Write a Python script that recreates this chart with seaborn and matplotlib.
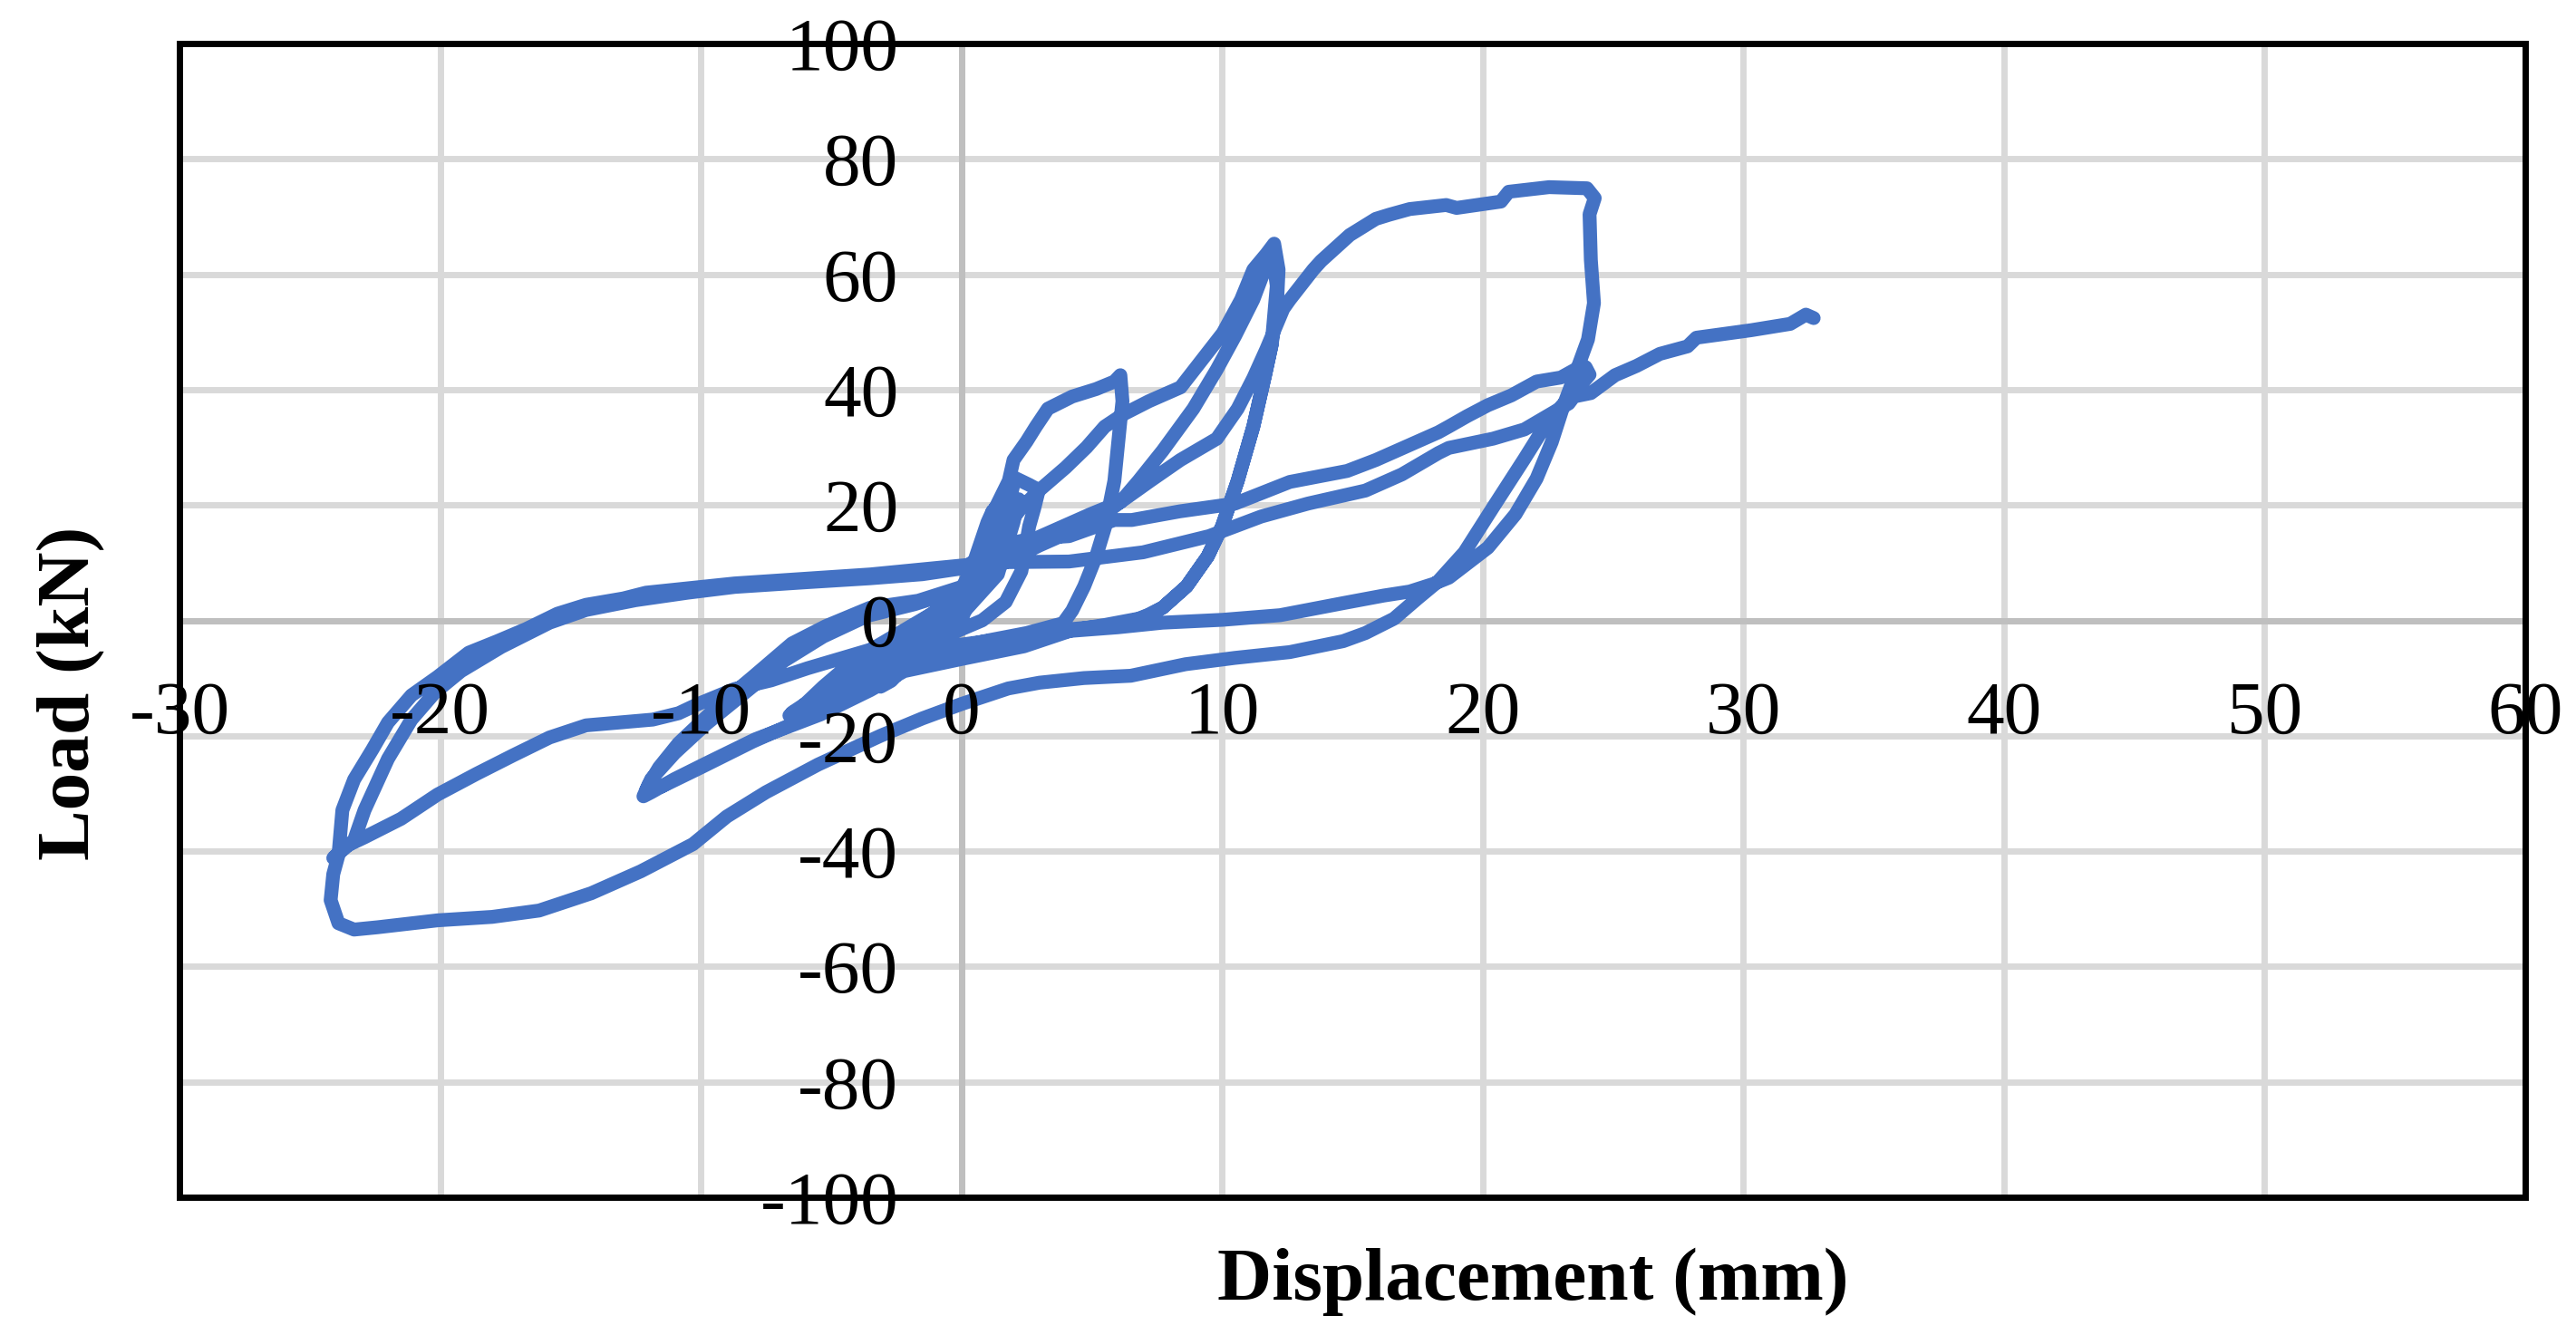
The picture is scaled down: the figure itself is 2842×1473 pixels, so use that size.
import matplotlib
matplotlib.use("Agg")
import matplotlib.pyplot as plt
import pandas as pd
import seaborn as sns
from matplotlib.patches import Rectangle

# load-displacement record, kept in test order
# small cycles around the origin
small_disp = [0.0, 0.4, 0.8, 1.1, 0.9, 0.3, -0.4, -1.2, -1.8, -1.5, -0.6, 0.2, 0.8, 1.2, 1.0, 0.4, -0.5,
              -1.8, -3.2, -2.9, -1.8, -0.5, 0.4, 1.0, 1.3, 1.1, 0.5, -0.6, -2.0, -3.1, -2.7, -1.4, 0.0, 0.6,
              1.0, 1.4, 1.0, 0.0, -2.0, -4.0, -5.5, -5.2, -3.5, -1.5, 0.0, 1.0, 2.2, 2.0, 1.4, 0.0,
              -2.5, -4.8, -6.2, -5.8, -4.2, -2.0, 0.6]
small_load = [0.0, 5.0, 11.0, 15.5, 13.5, 6.0, 0.0, -5.0, -8.0, -7.0, -2.5, 3.0, 11.0, 19.0, 17.0, 9.0, 1.0,
              -5.0, -11.0, -10.0, -5.5, 1.0, 8.0, 15.0, 19.5, 16.0, 8.0, 0.0, -6.5, -11.5, -10.5, -4.5, 2.0, 6.0,
              16.0, 20.0, 14.0, 4.0, -5.0, -11.0, -15.0, -13.0, -7.0, -1.0, 5.0, 14.0, 21.0, 17.0, 8.0, 1.0,
              -7.0, -13.5, -17.0, -15.0, -9.0, -2.0, 6.0]

# +-3 mm cycle
c3_disp = [0.6, 1.2, 1.8, 2.05, 2.6, 2.97, 2.8, 2.6, 2.3, 1.7, 0.8, -0.5, -2.0, -3.5, -5.0, -6.0, -6.5,
           -6.2, -5.2, -4.0, -2.5, -1.0, 0.0]
c3_load = [6.0, 12.0, 19.5, 24.7, 23.5, 22.6, 19.5, 16.3, 8.5, 3.2, 0.0, -2.5, -5.5, -9.0, -12.5, -14.5, -16.0,
           -15.5, -12.0, -7.5, -3.0, 1.5, 4.5]

# +-6 mm cycle
c6_disp = [0.0, 0.7, 1.24, 1.82, 2.0, 2.5, 2.86, 3.32, 4.25, 5.17, 5.87, 6.1, 6.18, 6.1, 5.87, 5.52, 5.17,
           4.71, 4.25, 3.9, 2.5, 1.0, -0.5, -2.0, -3.5, -5.0, -6.0, -6.6, -6.3, -5.3, -4.0, -2.5, -1.0, 0.0]
c6_load = [4.5, 12.0, 18.9, 24.2, 27.8, 31.0, 33.6, 36.7, 38.8, 40.1, 41.4, 42.5, 38.0, 34.6, 24.2, 16.3, 11.1,
           5.9, 1.7, -0.5, -2.2, -3.5, -5.0, -7.0, -9.5, -12.5, -14.8, -16.5, -15.8, -11.5, -6.5, -2.5, 1.5, 4.0]

# +-12 mm, first cycle
c12a_disp = [0.0, 0.8, 1.6, 2.3, 3.0, 4.0, 4.8, 5.5, 6.2, 7.2, 8.41, 9.22, 10.03, 10.73, 11.2, 11.7, 12.0,
             12.17, 12.1, 11.9, 11.65, 11.2, 10.6, 10.0, 9.45, 8.64, 7.72, 7.2, 6.8, 5.5, 4.25, 2.4, 0.0,
             -2.2, -3.5, -5.4, -7.9, -9.8, -11.0, -11.9, -12.2, -12.0, -11.6, -10.85, -9.4, -8.0, -6.5,
             -5.2, -3.5, -1.66, 0.08]
c12a_load = [4.0, 10.0, 15.5, 19.5, 22.6, 26.5, 30.0, 33.6, 35.7, 38.0, 40.4, 45.1, 49.8, 55.6, 60.8, 63.5, 65.3,
             60.8, 54.0, 47.7, 42.5, 33.6, 24.2, 16.3, 11.1, 5.9, 2.2, 1.0, 0.3, -0.8, -1.7, -4.5, -6.7,
             -8.8, -12.1, -16.3, -20.6, -24.8, -27.5, -29.8, -30.5, -28.5, -25.5, -21.3, -15.1, -9.8, -4.0,
             -1.0, 2.2, 3.4, 5.9]

# +-12 mm, second cycle
c12b_disp = [0.08, 1.0, 2.0, 3.0, 4.0, 5.0, 6.1, 6.8, 7.72, 8.9, 9.8, 10.5, 11.2, 11.77, 11.95, 12.1, 11.9,
             11.65, 11.2, 10.6, 10.0, 9.45, 8.64, 7.72, 7.0, 6.0, 4.25, 2.0, 0.0, -2.0, -3.6, -5.5, -8.0,
             -10.0, -11.5, -12.1, -11.9, -11.0, -9.8, -8.3, -6.8, -5.3, -3.6, -1.8, 0.08]
c12b_load = [5.9, 9.0, 12.0, 14.5, 16.5, 18.5, 20.5, 24.2, 29.4, 36.7, 43.5, 49.3, 55.6, 62.4, 63.0, 58.0, 47.7,
             42.5, 33.6, 24.2, 16.3, 11.1, 5.9, 2.2, 0.5, -0.8, -1.5, -3.5, -5.5, -8.0, -11.5, -16.0, -21.0,
             -25.5, -28.8, -29.5, -27.5, -23.0, -18.0, -12.5, -7.0, -2.8, 0.8, 2.8, 5.5]

# +24 mm push (peak load)
c24a_disp = [0.08, 1.2, 3.0, 4.5, 5.5, 6.1, 7.25, 8.4, 9.8, 10.6, 11.2, 11.7, 12.35, 12.6, 13.5, 13.8, 14.9,
             15.9, 16.4, 17.2, 18.6, 19.0, 20.7, 21.0, 22.55, 24.0, 24.3]
c24a_load = [5.5, 9.0, 13.0, 16.0, 18.5, 20.5, 24.2, 27.8, 31.5, 36.7, 42.0, 47.0, 54.0, 55.6, 60.8, 62.3, 66.8,
             69.6, 70.3, 71.3, 72.0, 71.5, 72.6, 74.3, 75.1, 74.9, 73.2]

# unloading and pull to -24 mm
c24b_disp = [24.3, 24.1, 24.15, 24.27, 24.04, 23.58, 23.1, 22.65, 22.07, 21.26, 20.2, 18.7, 18.1, 17.2, 16.2,
             14.66, 12.23, 10.03, 7.72, 6.0, 4.25, 2.0, 0.0, -2.0, -3.5, -5.9, -7.3, -8.7, -10.1, -10.85,
             -11.84, -14.4, -15.8, -17.2, -18.6, -20.1, -21.5, -22.9, -23.6, -24.1]
c24b_load = [73.2, 70.4, 62.5, 55.0, 48.7, 43.0, 37.2, 30.9, 24.6, 18.4, 12.6, 7.4, 6.3, 5.0, 4.3,
             3.0, 0.9, 0.1, -0.4, -1.2, -1.8, -3.0, -4.2, -4.8, -5.1, -8.3, -10.4, -11.9, -14.5, -16.1,
             -17.2, -18.2, -20.3, -23.4, -26.6, -30.2, -34.4, -37.6, -39.1, -41.2]

# second push to +24 mm
c24c_disp = [-24.1, -23.3, -22.9, -22.0, -21.1, -20.2, -19.2, -17.65, -15.8, -14.4, -12.5, -10.5, -8.7, -6.0,
             -3.5, -1.5, 0.0, 0.8, 1.7, 2.74, 4.13, 5.87, 6.54, 8.38, 10.5, 12.6, 14.8, 15.9, 17.0, 18.3,
             18.7, 19.4, 20.2, 21.1, 22.07, 23.0, 23.6, 23.95, 24.1]
c24c_load = [-41.2, -38.1, -32.9, -24.0, -17.2, -12.5, -8.8, -4.6, -0.4, 1.8, 3.5, 4.8, 5.8, 6.6,
             7.3, 8.0, 9.0, 11.0, 13.2, 14.2, 14.6, 17.4, 17.4, 18.9, 20.25, 24.0, 25.9, 27.8, 30.0, 32.6,
             33.6, 35.4, 37.3, 39.0, 41.4, 42.1, 43.6, 43.9, 42.6]

# second pull to -24 mm
c24d_disp = [24.1, 23.7, 22.5, 21.6, 20.4, 19.3, 18.3, 17.5, 16.6, 15.5, 14.65, 12.6, 10.5, 8.6, 6.5, 4.7,
             3.0, 1.8, 0.0, -1.5, -3.1, -5.5, -7.5, -9.0, -10.3, -12.3, -14.2, -16.2, -18.0, -20.1, -22.4,
             -23.3, -23.9, -24.2, -24.1, -23.9]
c24d_load = [42.6, 40.5, 34.5, 28.0, 19.6, 11.8, 6.8, 3.8, 0.3, -2.2, -3.6, -5.5, -6.5, -7.6, -9.6, -10.0,
             -10.8, -11.8, -14.5, -17.0, -20.0, -25.0, -29.8, -34.0, -38.8, -43.5, -47.3, -50.3, -51.4, -52.0,
             -53.2, -53.6, -52.5, -48.5, -44.0, -40.7]

# final push to failure
final_disp = [-23.9, -23.75, -23.3, -22.6, -22.0, -21.1, -20.1, -18.9, -17.8, -16.7, -15.5, -14.4, -12.97,
              -12.1, -8.7, -3.5, 0.0, 0.9, 1.7, 4.13, 6.97, 9.5, 11.5, 13.3, 15.5, 16.9, 18.3, 18.7, 20.4,
              21.6, 23.3, 23.5, 24.15, 25.08, 25.9, 26.8, 27.86, 28.2, 30.3, 31.8, 32.4, 32.7]
final_load = [-40.7, -32.9, -27.6, -22.4, -17.7, -13.0, -9.8, -5.6, -3.6, -1.5, 1.15, 2.7, 3.8,
              4.8, 6.4, 7.96, 9.5, 9.8, 10.1, 10.2, 11.8, 14.6, 18.0, 20.25, 22.5, 25.3, 29.0, 29.9, 31.5,
              33.1, 37.6, 38.8, 39.4, 42.5, 44.1, 46.2, 47.5, 49.0, 50.3, 51.4, 53.0, 52.4]

x_ticks = [-30, -20, -10, 0, 10, 20, 30, 40, 50, 60]
y_ticks = [-100, -80, -60, -40, -20, 0, 20, 40, 60, 80, 100]

disp = (small_disp + c3_disp + c6_disp + c12a_disp + c12b_disp + c24a_disp + c24b_disp
        + c24c_disp + c24d_disp + final_disp)
load = (small_load + c3_load + c6_load + c12a_load + c12b_load + c24a_load + c24b_load
        + c24c_load + c24d_load + final_load)
df = pd.DataFrame({"disp": disp, "load": load})

sns.set_style("white")
plt.rcParams["font.family"] = ["Liberation Serif", "DejaVu Serif"]
plt.rcParams["axes.unicode_minus"] = False
plt.rcParams["text.color"] = "black"

fig = plt.figure(figsize=(14.21, 7.365), dpi=200)
ax = fig.add_axes([198 / 2842, 1 - 1321 / 1473, (2786 - 198) / 2842, (1321 - 48) / 1473])

# light grid under everything
for xt in x_ticks:
    ax.axvline(xt, color="#d9d9d9", lw=2.5, zorder=0.5)
for yt in y_ticks:
    ax.axhline(yt, color="#d9d9d9", lw=2.5, zorder=0.5)

sns.lineplot(data=df, x="disp", y="load", sort=False, estimator=None, color="#4472C4",
             linewidth=5.5, ax=ax, zorder=3, solid_capstyle="round", solid_joinstyle="round")

ax.set_xlim(-30, 60)
ax.set_ylim(-100, 100)
ax.set_xticks(x_ticks)
ax.set_yticks(y_ticks)
ax.set_xlabel("")
ax.set_ylabel("")

# axes cross at zero, black box around the plot area
for side in ["top", "right"]:
    ax.spines[side].set_visible(False)
for side in ["left", "bottom"]:
    ax.spines[side].set_position(("data", 0))
    ax.spines[side].set_color("#bfbfbf")
    ax.spines[side].set_linewidth(2.5)
    ax.spines[side].set_zorder(1)
ax.add_patch(Rectangle((0, 0), 1, 1, transform=ax.transAxes, fill=False, ec="black",
                       lw=2.5, zorder=5, clip_on=False))

ax.xaxis.set_zorder(4)
ax.yaxis.set_zorder(4)
ax.tick_params(length=0, labelsize=30, colors="black")
ax.tick_params(axis="x", pad=24)
ax.tick_params(axis="y", pad=25)

fig.text(1691 / 2842, 1 - 1434 / 1473, "Displacement (mm)", ha="center", va="baseline",
         fontsize=30, fontweight="bold", color="black")
fig.text(98 / 2842, 1 - 765 / 1473, "Load (kN)", rotation=90, rotation_mode="anchor",
         ha="center", va="baseline", fontsize=30, fontweight="bold", color="black")

fig.savefig("out.png", dpi=200, facecolor="white")
